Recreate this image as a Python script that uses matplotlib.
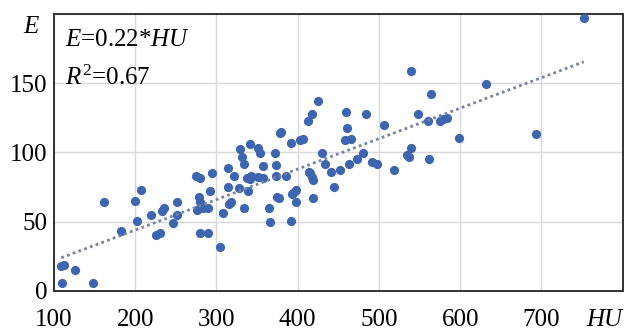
import matplotlib
matplotlib.use("Agg")
import matplotlib.pyplot as plt
import numpy as np

# scatter data (HU, E)
hu = [109, 112, 110, 126, 148, 161, 182, 200, 202, 207, 219, 225, 231, 233, 235,
      246, 252, 252, 275, 280, 276, 279, 280, 280, 289, 284, 289, 292, 295, 304,
      308, 314, 314, 316, 318, 322, 328, 334, 334, 337, 339, 343, 351, 357, 357,
      365, 366, 373, 373, 374, 377, 385, 392, 394, 398, 398, 415, 419, 419, 341,
      351, 353, 329, 331, 372, 378, 341, 425, 418, 413, 460, 484, 461, 458, 466,
      380, 392, 403, 406, 430, 433, 441, 452, 463, 473, 480, 491, 498, 414, 417,
      445, 393, 539, 632, 564, 548, 560, 575, 579, 584, 506, 598, 539, 534, 537,
      562, 518, 752, 693]
e = [18, 19, 6, 15, 6, 64, 43.5, 65, 50.5, 73, 55, 40.5, 42, 58, 60,
     49, 64, 55, 83, 81.5, 58.6, 68, 64, 41.7, 42.2, 60, 60, 72, 85.5, 31.6,
     56, 89, 75, 63, 64.6, 83, 74, 92, 60, 81.5, 72, 83, 82.5, 90, 81.5,
     60, 50, 91, 83, 68, 67, 83, 50.8, 70.5, 73, 64, 85.5, 80, 67, 106,
     103, 99.5, 102.5, 97, 99.5, 114, 80.8, 137, 128, 122.5, 129, 128, 118, 109, 110,
     115, 107, 109, 110, 99.5, 92, 86, 87.5, 92, 95, 99.5, 93, 92, 86, 82,
     75, 70, 159, 149.5, 142, 128, 123, 122.5, 124, 125, 120, 110.5, 103, 98, 97,
     95, 87, 197, 113.5]

slope = 0.22
r2 = 0.67
x_ticks = [100, 200, 300, 400, 500, 600, 700]
y_ticks = [0, 50, 100, 150]

plt.rcParams["font.family"] = "Liberation Serif"
plt.rcParams["mathtext.fontset"] = "custom"
plt.rcParams["mathtext.rm"] = "Liberation Serif"
plt.rcParams["mathtext.it"] = "Liberation Serif:italic"

fig = plt.figure(figsize=(6.24, 3.32), dpi=100)
ax = fig.add_axes([0.0865, 0.1235, 0.9115, 0.8345])

ax.grid(True, color="#d9d9d9", linewidth=1)
ax.set_axisbelow(True)

ax.scatter(hu, e, s=44, color="#3e66b0", zorder=3, linewidths=0)

# linear trend through origin
xl = np.array([min(hu), max(hu)])
ax.plot(xl, slope * xl, linestyle=(0, (1, 1.2)), color="#7484a3", linewidth=2, zorder=4)

ax.set_xlim(100, 800)
ax.set_ylim(0, 200)
ax.set_xticks(x_ticks + [800])
ax.set_xticklabels([str(t) for t in x_ticks] + [""])
ax.set_yticks(y_ticks + [200])
ax.set_yticklabels([str(t) for t in y_ticks] + [""])
ax.tick_params(length=0, labelsize=18)
ax.tick_params(axis="x", pad=13)
ax.tick_params(axis="y", pad=5)

for s in ax.spines.values():
    s.set_color("#333333")
    s.set_linewidth(1.4)

fig.text(31 / 624, 1 - 27 / 332, "E", fontsize=18, style="italic", ha="center", va="center")
fig.text(604 / 624, 1 - 320 / 332, "HU", fontsize=18, style="italic", ha="center", va="center")

ax.text(0.02, 0.905, r"$E$=0.22*$HU$", transform=ax.transAxes, fontsize=18, va="center")
ax.text(0.02, 0.77, r"$R^{\mathrm{2}}$=%.2f" % r2, transform=ax.transAxes, fontsize=18, va="center")

fig.savefig("out.png", dpi=100)
